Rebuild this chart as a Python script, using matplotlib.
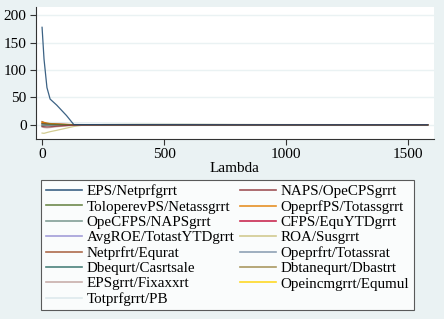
#!/usr/bin/env python3

import numpy as np
import matplotlib
matplotlib.use('Agg')
import matplotlib.pyplot as plt
from matplotlib.lines import Line2D

lam = [0, 8, 20, 33, 60, 100, 130, 160, 250, 400, 600, 800, 1000, 1300, 1580]

eps_netprf    = [178, 120, 68, 47, 36, 17, 0.5, 0.4, 0.3, 0.2, 0.1, 0.0, 0.0, 0.0, 0.0]
naps_opecps   = [-3, -3.5, -3.8, -3.5, -2.5, -1.2, -0.5, -0.2, 0.0, 0.0, 0.0, 0.0, 0.0, 0.0, 0.0]
tolop_netass  = [2.0, 1.8, 1.5, 1.2, 0.8, 0.4, 0.2, 0.1, 0.0, 0.0, 0.0, 0.0, 0.0, 0.0, 0.0]
opeprf_totass = [5.0, 4.0, 3.0, 2.4, 1.6, 0.8, 0.4, 0.3, 0.2, 0.1, 0.1, 0.0, 0.0, 0.0, 0.0]
opecf_naps    = [-1.0, -1.0, -0.8, -0.6, -0.4, -0.2, -0.1, 0.0, 0.0, 0.0, 0.0, 0.0, 0.0, 0.0, 0.0]
cfps_equytd   = [3.0, 2.5, 2.0, 1.5, 1.0, 0.5, 0.2, 0.1, 0.0, 0.0, 0.0, 0.0, 0.0, 0.0, 0.0]
avgroe_totast = [1.0, 0.8, 0.6, 0.5, 0.3, 0.2, 0.1, 0.0, 0.0, 0.0, 0.0, 0.0, 0.0, 0.0, 0.0]
roa_sus       = [-15, -15.5, -14, -12.5, -10, -6, -3, -1.0, 0.5, 0.8, 0.8, 0.6, 0.5, 0.4, 0.3]
netprf_equ    = [6.0, 4.5, 3.0, 2.0, 1.2, 0.6, 0.3, 0.2, 0.0, 0.0, 0.0, 0.0, 0.0, 0.0, 0.0]
opeprf_totrat = [-2.0, -1.8, -1.5, -1.2, -0.8, -0.4, -0.2, 0.0, 0.0, 0.0, 0.0, 0.0, 0.0, 0.0, 0.0]
dbequ_cas     = [1.5, 1.2, 1.0, 0.8, 0.5, 0.3, 0.1, 0.0, 0.0, 0.0, 0.0, 0.0, 0.0, 0.0, 0.0]
dbtan_dbas    = [-1.5, -1.3, -1.0, -0.8, -0.5, -0.3, -0.1, 0.0, 0.0, 0.0, 0.0, 0.0, 0.0, 0.0, 0.0]
epsgr_fix     = [-4.0, -5.0, -5.5, -5.0, -3.5, -2.0, -0.8, -0.3, 0.0, 0.0, 0.0, 0.0, 0.0, 0.0, 0.0]
opeinc_equmul = [4.0, 3.0, 1.0, -0.5, -1.5, -1.0, -0.5, -0.5, -0.3, -0.2, -0.1, 0.0, 0.0, 0.0, 0.0]
totprf_pb     = [4.5, 4.5, 4.4, 4.3, 4.2, 4.0, 3.8, 3.6, 3.3, 2.8, 2.0, 0.8, 0.3, 0.1, 0.0]

names = ['EPS/Netprfgrrt', 'NAPS/OpeCPSgrrt', 'ToloperevPS/Netassgrrt',
         'OpeprfPS/Totassgrrt', 'OpeCFPS/NAPSgrrt', 'CFPS/EquYTDgrrt',
         'AvgROE/TotastYTDgrrt', 'ROA/Susgrrt', 'Netprfrt/Equrat',
         'Opeprfrt/Totassrat', 'Dbequrt/Casrtsale', 'Dbtanequrt/Dbastrt',
         'EPSgrrt/Fixaxxrt', 'Opeincmgrrt/Equmul', 'Totprfgrrt/PB']
series = [eps_netprf, naps_opecps, tolop_netass, opeprf_totass, opecf_naps,
          cfps_equytd, avgroe_totast, roa_sus, netprf_equ, opeprf_totrat,
          dbequ_cas, dbtan_dbas, epsgr_fix, opeinc_equmul, totprf_pb]

# stata s2color palette
colors = ['#1a476f', '#90353b', '#55752f', '#e37e00', '#6e8e84', '#c10534',
          '#938dd2', '#cac27e', '#a0522d', '#7b92a8', '#2d6d66', '#9c8847',
          '#bfa19c', '#ffd200', '#d9e6eb']

plt.rcParams['font.family'] = ['Liberation Serif', 'DejaVu Serif']

bg = '#eaf2f3'
fig = plt.figure(figsize=(4.44, 3.19), dpi=100, facecolor=bg)
ax = fig.add_axes([0.081, 0.564, 0.896, 0.414])
ax.set_facecolor('white')

# draw in reverse so the first series sits on top like stata does
for i in range(len(series) - 1, -1, -1):
    ax.plot(lam, series[i], color=colors[i], lw=0.9, alpha=0.85,
            zorder=3 + (len(series) - i) * 0.01)

ax.set_xlim(-25, 1605)
ax.set_ylim(-26, 215)
ax.set_xticks([0, 500, 1000, 1500])
ax.set_yticks([0, 50, 100, 150, 200])
ax.grid(axis='y', color=bg, lw=1.0)
ax.set_axisbelow(True)
for s in ['top', 'right']:
    ax.spines[s].set_visible(False)
for s in ['left', 'bottom']:
    ax.spines[s].set_color('#333333')
    ax.spines[s].set_linewidth(0.8)
ax.tick_params(labelsize=11, length=4.3, width=0.8, color='#333333', pad=2.5)
ax.tick_params(axis='x', pad=2)
ax.set_xlabel('Lambda', fontsize=11, labelpad=1)

# stata fills legend row by row, matplotlib column by column
handles = [Line2D([], [], color=c, lw=1.2, alpha=0.85) for c in colors]
order = list(range(0, 15, 2)) + list(range(1, 15, 2))
leg = fig.legend([handles[k] for k in order], [names[k] for k in order],
                 ncol=2, loc='upper left',
                 bbox_to_anchor=(41 / 444, 1 - 180 / 319),
                 fontsize=10.8, frameon=True, fancybox=False,
                 handlelength=2.4, handletextpad=0.33, labelspacing=0.12,
                 borderpad=0.3, columnspacing=0.35, borderaxespad=0)
leg.get_frame().set_edgecolor('#333333')
leg.get_frame().set_linewidth(0.8)
leg.get_frame().set_facecolor('white')

fig.savefig('out.png', dpi=100, facecolor=bg)
